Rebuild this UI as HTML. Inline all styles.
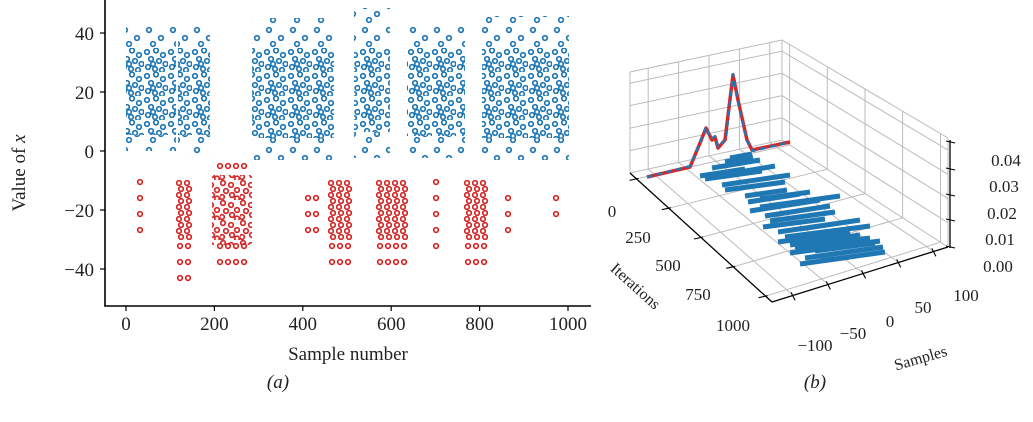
<!DOCTYPE html>
<html><head><meta charset="utf-8"><style>
html,body{margin:0;padding:0;background:#fff;}
svg{display:block;font-family:"Liberation Serif",serif;}
</style></head><body>
<svg width="1033" height="422" viewBox="0 0 1033 422" xmlns="http://www.w3.org/2000/svg">
<defs>
<pattern id="bd" patternUnits="userSpaceOnUse" width="24" height="24">
<g fill="none" stroke="#1f77b4" stroke-width="1.7">
<circle cx="3" cy="4" r="2.3"/><circle cx="12" cy="2.5" r="2.3"/><circle cx="19" cy="7" r="2.3"/>
<circle cx="7" cy="11" r="2.3"/><circle cx="15" cy="13" r="2.3"/><circle cx="21.5" cy="16" r="2.3"/>
<circle cx="4" cy="19" r="2.3"/><circle cx="11" cy="21" r="2.3"/><circle cx="18" cy="22" r="2.3"/>
<circle cx="9" cy="16" r="2.3"/>
</g></pattern>
<pattern id="bs" patternUnits="userSpaceOnUse" width="24" height="24">
<g fill="none" stroke="#1f77b4" stroke-width="1.7">
<circle cx="5" cy="6" r="2.3"/><circle cx="17" cy="14" r="2.3"/><circle cx="9" cy="20" r="2.3"/>
</g></pattern>
<pattern id="rd" patternUnits="userSpaceOnUse" width="8" height="12">
<g fill="none" stroke="#d62728" stroke-width="1.7">
<circle cx="3" cy="3" r="2.3"/><circle cx="5" cy="9" r="2.3"/>
</g></pattern>
<pattern id="rw" patternUnits="userSpaceOnUse" width="20" height="20">
<g fill="none" stroke="#d62728" stroke-width="1.7">
<circle cx="3" cy="3" r="2.3"/><circle cx="11" cy="5" r="2.3"/><circle cx="17" cy="10" r="2.3"/>
<circle cx="6" cy="11" r="2.3"/><circle cx="2" cy="17" r="2.3"/><circle cx="12" cy="15" r="2.3"/><circle cx="17" cy="18.5" r="2.3"/>
</g></pattern>
<pattern id="rs" patternUnits="userSpaceOnUse" width="8" height="16">
<g fill="none" stroke="#d62728" stroke-width="1.7">
<circle cx="4" cy="6" r="2.3"/>
</g></pattern>
</defs>

<!-- blue clusters -->
<g>
<rect x="126" y="48" width="50" height="87" fill="url(#bd)"/>
<rect x="126" y="24" width="50" height="24" fill="url(#bs)"/>
<rect x="126" y="135" width="50" height="16" fill="url(#bs)"/>
<rect x="178" y="48" width="32" height="87" fill="url(#bd)"/>
<rect x="178" y="24" width="32" height="24" fill="url(#bs)"/>
<rect x="178" y="135" width="32" height="20" fill="url(#bs)"/>
<rect x="252" y="48" width="82" height="90" fill="url(#bd)"/>
<rect x="252" y="18" width="82" height="30" fill="url(#bs)"/>
<rect x="252" y="138" width="82" height="22" fill="url(#bs)"/>
<rect x="354" y="48" width="36" height="84" fill="url(#bd)"/>
<rect x="354" y="8" width="36" height="40" fill="url(#bs)"/>
<rect x="354" y="132" width="36" height="26" fill="url(#bs)"/>
<rect x="407" y="48" width="58" height="88" fill="url(#bd)"/>
<rect x="407" y="24" width="58" height="24" fill="url(#bs)"/>
<rect x="407" y="136" width="58" height="22" fill="url(#bs)"/>
<rect x="482" y="48" width="87" height="90" fill="url(#bd)"/>
<rect x="482" y="16" width="87" height="32" fill="url(#bs)"/>
<rect x="482" y="138" width="87" height="22" fill="url(#bs)"/>
</g>
<!-- red clusters -->
<g>
<rect x="136" y="176" width="8" height="64" fill="url(#rs)"/>
<rect x="176" y="180" width="16" height="60" fill="url(#rd)"/>
<rect x="176" y="240" width="16" height="48" fill="url(#rs)"/>
<rect x="212" y="175" width="40" height="70" fill="url(#rw)"/>
<rect x="216" y="160" width="32" height="16" fill="url(#rs)"/>
<rect x="216" y="240" width="32" height="32" fill="url(#rs)"/>
<rect x="304" y="192" width="16" height="48" fill="url(#rs)"/>
<rect x="328" y="180" width="24" height="60" fill="url(#rd)"/>
<rect x="328" y="240" width="24" height="32" fill="url(#rs)"/>
<rect x="376" y="180" width="32" height="60" fill="url(#rd)"/>
<rect x="376" y="240" width="32" height="32" fill="url(#rs)"/>
<rect x="432" y="176" width="8" height="80" fill="url(#rs)"/>
<rect x="464" y="180" width="24" height="60" fill="url(#rd)"/>
<rect x="464" y="240" width="24" height="32" fill="url(#rs)"/>
<rect x="504" y="192" width="8" height="48" fill="url(#rs)"/>
<rect x="552" y="192" width="8" height="32" fill="url(#rs)"/>
</g>
<!-- left axes -->
<g stroke="#000" stroke-width="1.6" fill="none">
<line x1="105" y1="0" x2="105" y2="306.5"/>
<line x1="104.2" y1="306" x2="591" y2="306"/>
</g>
<g stroke="#000" stroke-width="1.2">
<line x1="100" y1="33" x2="105" y2="33"/><line x1="100" y1="92" x2="105" y2="92"/>
<line x1="100" y1="151" x2="105" y2="151"/><line x1="100" y1="210" x2="105" y2="210"/>
<line x1="100" y1="269" x2="105" y2="269"/>
<line x1="126" y1="306" x2="126" y2="311"/><line x1="214.4" y1="306" x2="214.4" y2="311"/>
<line x1="302.8" y1="306" x2="302.8" y2="311"/><line x1="391.2" y1="306" x2="391.2" y2="311"/>
<line x1="479.6" y1="306" x2="479.6" y2="311"/><line x1="568" y1="306" x2="568" y2="311"/>
</g>
<g font-size="19" fill="#222" text-anchor="end">
<text x="94" y="40">40</text><text x="94" y="99">20</text><text x="94" y="158">0</text>
<text x="94" y="217">−20</text><text x="94" y="276">−40</text>
</g>
<g font-size="19" fill="#222" text-anchor="middle">
<text x="126" y="330">0</text><text x="214.4" y="330">200</text><text x="302.8" y="330">400</text>
<text x="391.2" y="330">600</text><text x="479.6" y="330">800</text><text x="568" y="330">1000</text>
<text x="348" y="360">Sample number</text>
<text x="278" y="388" font-style="italic">(a)</text>
<text x="815" y="388" font-style="italic">(b)</text>
<text transform="translate(25,173) rotate(-90)">Value of <tspan font-style="italic">x</tspan></text>
</g>

<!-- 3D grid -->
<g stroke="#bbb" stroke-width="1" fill="none">
<line x1="789.6" y1="144.9" x2="789.6" y2="44.5"/><line x1="636.5" y1="178.9" x2="789.6" y2="144.9"/>
<line x1="827.3" y1="169.2" x2="827.3" y2="66.8"/><line x1="668.8" y1="208.2" x2="827.3" y2="169.2"/>
<line x1="865" y1="193.5" x2="865" y2="89"/><line x1="701" y1="237.5" x2="865" y2="193.5"/>
<line x1="902.6" y1="217.8" x2="902.6" y2="111.2"/><line x1="733.2" y1="266.8" x2="902.6" y2="217.8"/>
<line x1="940.5" y1="242.2" x2="940.5" y2="133.6"/><line x1="765.6" y1="296.2" x2="940.5" y2="242.2"/>
<line x1="648.2" y1="169" x2="793.1" y2="295.4"/><line x1="648.2" y1="169" x2="648.2" y2="68.2"/>
<line x1="678.6" y1="162.4" x2="828.3" y2="284.4"/><line x1="678.6" y1="162.4" x2="678.6" y2="61.8"/>
<line x1="709" y1="155.8" x2="863.5" y2="273.4"/><line x1="709" y1="155.8" x2="709" y2="55.4"/>
<line x1="739.4" y1="149.2" x2="898.7" y2="262.4"/><line x1="739.4" y1="149.2" x2="739.4" y2="49"/>
<line x1="769.8" y1="142.6" x2="933.9" y2="251.4"/><line x1="769.8" y1="142.6" x2="769.8" y2="42.6"/>
<polyline points="630,150.6 782,117.8 948,222.8"/>
<polyline points="630,128.2 782,95.6 948,198.6"/>
<polyline points="630,105.6 782,73.3 948,174.3"/>
<polyline points="630,83.2 782,51.1 948,150.1"/>
<polyline points="630,173 782,140 948,247"/>
<polyline points="630,72 782,40 948,138"/>
<line x1="630" y1="72" x2="630" y2="173"/><line x1="782" y1="40" x2="782" y2="140"/><line x1="948" y1="138" x2="948" y2="247"/>
</g>
<!-- trace -->
<path d="M725 162 L753 157 M712 168 L760 160 M700 176 L745 169 M705 179 L762 171 M722 185 L790 175 M725 190 L785 182 M745 196 L787 190 M748 202 L800 194 M760 207 L840 196 M750 211 L820 200 M765 216 L830 206 M770 221 L835 212 M763 227 L825 219 M778 232 L840 223 M785 237 L870 226 M778 242 L850 232 M795 248 L870 238 M790 253 L880 241 M805 258 L883 247 M800 264 L850 257 M820 261 L885 252 M740 172 L775 166 M760 199 L810 192 M800 229 L860 220 M815 251 L875 243 M730 158 L752 154 M790 245 L860 235" stroke="#1f77b4" stroke-width="5" fill="none"/>
<polyline points="647,177 690,167 700,143 706,128 712,140 715,137 718,148 725,140 733,75 738,100 747,140 752,150 790,142" stroke="#d62728" stroke-width="3.5" fill="none" stroke-linejoin="round"/>
<polyline points="647,177 690,166 700,142 706,127 711,139 715,136 718,147 726,139 733,74 737,98 747,141 753,151 790,142" stroke="#1f77b4" stroke-width="2.2" fill="none" stroke-dasharray="6,4" stroke-linejoin="round"/>
<g stroke="#000" stroke-width="1.3" fill="none">
<line x1="630" y1="173" x2="772" y2="302"/>
<line x1="772" y1="302" x2="948" y2="247"/>
<line x1="950" y1="140" x2="950" y2="248"/>
</g>
<g stroke="#000" stroke-width="1.1">
<line x1="629.5" y1="180.4" x2="638.5" y2="178.4"/><line x1="661.8" y1="209.7" x2="670.8" y2="207.7"/>
<line x1="694" y1="239" x2="703" y2="237"/><line x1="726.2" y1="268.3" x2="735.2" y2="266.3"/>
<line x1="758.6" y1="297.7" x2="767.6" y2="295.7"/>
<line x1="791.1" y1="292.4" x2="795.1" y2="300.4"/><line x1="826.3" y1="281.4" x2="830.3" y2="289.4"/>
<line x1="861.5" y1="270.4" x2="865.5" y2="278.4"/><line x1="896.7" y1="259.4" x2="900.7" y2="267.4"/>
<line x1="931.9" y1="248.4" x2="935.9" y2="256.4"/>
<line x1="946" y1="246" x2="955" y2="248"/><line x1="946" y1="219" x2="955" y2="221"/>
<line x1="946" y1="194" x2="955" y2="196"/><line x1="946" y1="168" x2="955" y2="170"/>
<line x1="946" y1="141" x2="955" y2="143"/>
</g>
<g font-size="17" fill="#222" text-anchor="middle">
<text x="612" y="217">0</text><text x="638" y="243">250</text><text x="668" y="271">500</text>
<text x="698" y="300">750</text><text x="733" y="331">1000</text>
<text x="815" y="351">−100</text><text x="853" y="339">−50</text><text x="890" y="327">0</text>
<text x="923" y="313">50</text><text x="966" y="301">100</text>
<text x="1006" y="166">0.04</text><text x="1004" y="192">0.03</text><text x="1002" y="219">0.02</text>
<text x="1000" y="245">0.01</text><text x="998" y="272">0.00</text>
<text transform="translate(632,290) rotate(42)" font-size="16">Iterations</text>
<text transform="translate(922,363) rotate(-16)" font-size="16">Samples</text>
</g>
</svg>
</body></html>
